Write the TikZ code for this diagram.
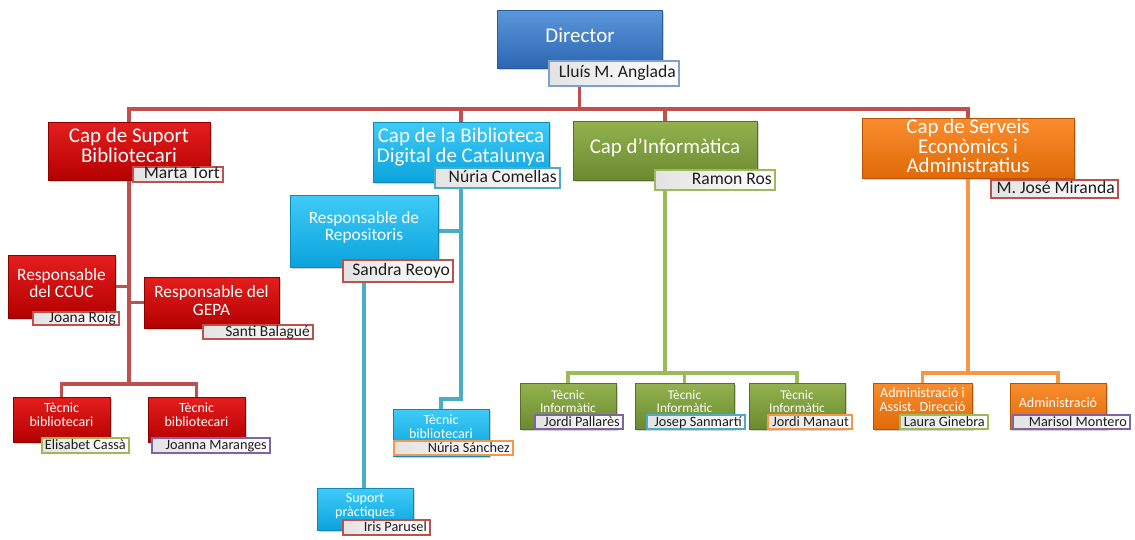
\documentclass[tikz,border=0pt]{standalone}
\usepackage{fontspec}
\setmainfont{Carlito}
\usetikzlibrary{shadows,backgrounds}
\definecolor{bT}{HTML}{5B97DB}\definecolor{bB}{HTML}{2C66B2}\definecolor{bD}{HTML}{2A5A9A}
\definecolor{rT}{HTML}{E41E1E}\definecolor{rB}{HTML}{B50000}\definecolor{rD}{HTML}{8E0000}
\definecolor{cT}{HTML}{3FCBF7}\definecolor{cB}{HTML}{0BA3DC}\definecolor{cD}{HTML}{0A8AB8}
\definecolor{gT}{HTML}{93B24E}\definecolor{gB}{HTML}{6A8A2F}\definecolor{gD}{HTML}{56722A}
\definecolor{oT}{HTML}{F98D2E}\definecolor{oB}{HTML}{E06A08}\definecolor{oD}{HTML}{B55305}
\definecolor{lnR}{HTML}{C0504D}\definecolor{lnB}{HTML}{4BACC6}
\definecolor{lnG}{HTML}{9BBB59}\definecolor{lnO}{HTML}{F79646}
\definecolor{lnP}{HTML}{8064A2}\definecolor{lnD}{HTML}{7F9FCF}
\definecolor{txt}{HTML}{1E1E1E}
\newcommand{\ob}[6]{\node[#2, anchor=north west, minimum width={(#5-#3)*0.75pt}, minimum height={(#6-#4)*0.75pt}] (#1) at (#3,#4) {};}
\tikzset{
  boxbase/.style={rectangle, inner sep=0pt, outer sep=0pt, line width=0.4pt,
    drop shadow={opacity=0.35, shadow xshift=1.3pt, shadow yshift=-1.3pt}},
  bluebox/.style={boxbase, top color=bT, bottom color=bB, draw=bD},
  redbox/.style={boxbase, top color=rT, bottom color=rB, draw=rD},
  cyanbox/.style={boxbase, top color=cT, bottom color=cB, draw=cD},
  greenbox/.style={boxbase, top color=gT, bottom color=gB, draw=gD},
  orangebox/.style={boxbase, top color=oT, bottom color=oB, draw=oD},
  namebox/.style={rectangle, inner sep=0pt, outer sep=0pt, line width=0.9pt, draw=#1,
    left color=gray!22, right color=white,
    drop shadow={opacity=0.3, shadow xshift=1pt, shadow yshift=-1pt}},
  ttl/.style={text=white, align=center, inner sep=0pt},
  nm/.style={text=txt, inner sep=0pt, anchor=east, xshift=-2.2pt, text height=0.64em, text depth=0pt},
  fA/.style={font=\fontsize{15.7}{14.6}\selectfont},
  fB/.style={font=\fontsize{13}{13.2}\selectfont},
  fC/.style={font=\fontsize{10.5}{10.2}\selectfont},
  fD/.style={font=\fontsize{10}{9.6}\selectfont},
  nA/.style={nm, font=\fontsize{13.2}{14}\selectfont},
  nB/.style={nm, font=\fontsize{11.6}{12}\selectfont},
  nC/.style={nm, font=\fontsize{10.7}{11}\selectfont},
  redln/.style={draw=lnR, line width=2.3pt},
  blueln/.style={draw=lnB, line width=2.3pt},
  greenln/.style={draw=lnG, line width=2.3pt},
  orangeln/.style={draw=lnO, line width=2.3pt},
}
\begin{document}
\begin{tikzpicture}[x=0.75pt, y=-0.75pt]
\useasboundingbox (0,0) rectangle (1135,539);
% ---- main boxes
\ob{dir}{bluebox}{497}{10}{662}{68}
\ob{csb}{redbox}{48}{122}{210}{180}
\ob{cbd}{cyanbox}{373}{122}{549}{182}
\ob{cin}{greenbox}{573}{121}{757}{180}
\ob{cso}{orangebox}{862}{118}{1074}{178}
\ob{ccuc}{redbox}{8}{255}{115}{318}
\ob{gepa}{redbox}{144}{277}{279}{328}
\ob{repo}{cyanbox}{290}{195}{438}{267}
\ob{tb1}{redbox}{13}{397}{110}{442}
\ob{tb2}{redbox}{148}{397}{245}{442}
\ob{tbb}{cyanbox}{393}{409}{489}{456}
\ob{sp}{cyanbox}{317}{488}{413}{530}
\ob{ti1}{greenbox}{520}{383}{616}{429}
\ob{ti2}{greenbox}{635}{383}{734}{429}
\ob{ti3}{greenbox}{749}{383}{845}{429}
\ob{ad1}{orangebox}{873}{383}{972}{429}
\ob{ad2}{orangebox}{1010}{383}{1106}{429}
% ---- name boxes
\ob{dirN}{namebox=lnD}{549}{61}{679}{86}
\ob{mt}{namebox=lnR}{133}{167}{223}{182}
\ob{nc}{namebox=lnB}{435}{168}{560}{188}
\ob{rr}{namebox=lnG}{655}{170}{775}{190}
\ob{mjm}{namebox=lnR}{991}{180}{1118}{198}
\ob{jr}{namebox=lnR}{33}{312}{119}{325}
\ob{sb}{namebox=lnR}{203}{325}{313}{339}
\ob{srey}{namebox=lnR}{343}{260}{453}{282}
\ob{ec}{namebox=lnG}{42}{438}{129}{453}
\ob{jm}{namebox=lnP}{152}{438}{270}{453}
\ob{ns}{namebox=lnO}{394}{441}{513}{455}
\ob{ip}{namebox=lnR}{343}{520}{430}{535}
\ob{jp}{namebox=lnP}{535}{415}{623}{429}
\ob{js}{namebox=lnB}{647}{415}{745}{429}
\ob{jma}{namebox=lnO}{768}{415}{852}{429}
\ob{lg}{namebox=lnG}{900}{415}{988}{429}
\ob{mm}{namebox=lnP}{1013}{415}{1130}{429}
% ---- titles
\node[ttl, fA] (dirT) at (580,35) {Director};
\node[ttl, fA] (csbT) at (129,145.5) {Cap de Suport\\Bibliotecari};
\node[ttl, fA] (cbdT) at (461,147) {Cap de la Biblioteca\\Digital de Catalunya};
\node[ttl, fA] (cinT) at (665,148) {Cap d’Informàtica};
\node[ttl, fA] (csoT) at (968,146) {Cap de Serveis\\Econòmics i\\Administratius};
\node[ttl, fB] (ccucT) at (61.5,283) {Responsable\\del CCUC};
\node[ttl, fB] (gepaT) at (211.5,300.5) {Responsable del\\GEPA};
\node[ttl, fB] (repoT) at (364,227.5) {Responsable de\\Repositoris};
\node[ttl, fC] (tb1T) at (61.5,414.5) {Tècnic\\bibliotecari};
\node[ttl, fC] (tb2T) at (196.5,414.5) {Tècnic\\bibliotecari};
\node[ttl, fC] (tbbT) at (441,427) {Tècnic\\bibliotecari};
\node[ttl, fC] (spT) at (365,506) {Suport\\pràctiques};
\node[ttl, fD] (ti1T) at (568,401.5) {Tècnic\\Informàtic};
\node[ttl, fD] (ti2T) at (684.5,401.5) {Tècnic\\Informàtic};
\node[ttl, fD] (ti3T) at (797,401.5) {Tècnic\\Informàtic};
\node[ttl, fC] (ad1T) at (922.5,399.5) {Administració i\\Assist. Direcció};
\node[ttl, fC] (ad2T) at (1058,403) {Administració};
% ---- names
\node[nA] (dirNT) at (dirN.east) {Lluís M. Anglada};
\node[nA] (mtT) at (mt.east) {Marta Tort};
\node[nA] (ncT) at (nc.east) {Núria Comellas};
\node[nA] (rrT) at (rr.east) {Ramon Ros};
\node[nA] (mjmT) at (mjm.east) {M. José Miranda};
\node[nB] (jrT) at (jr.east) {Joana Roig};
\node[nB] (sbT) at (sb.east) {Santi Balagué};
\node[nA] (sreyT) at (srey.east) {Sandra Reoyo};
\node[nC] (ecT) at (ec.east) {Elisabet Cassà};
\node[nC] (jmT) at (jm.east) {Joanna Maranges};
\node[nC] (nsT) at (ns.east) {Núria Sánchez};
\node[nC] (ipT) at (ip.east) {Iris Parusel};
\node[nC] (jpT) at (jp.east) {Jordi Pallarès};
\node[nC] (jsT) at (js.east) {Josep Sanmartí};
\node[nC] (jmaT) at (jma.east) {Jordi Manaut};
\node[nC] (lgT) at (lg.east) {Laura Ginebra};
\node[nC] (mmT) at (mm.east) {Marisol Montero};
% ---- connectors
\coordinate (busY) at (580,109);
\coordinate (rj) at (128,384);
\coordinate (bj) at (461,399);
\coordinate (gj) at (665,373);
\coordinate (oj) at (968,373);
\begin{scope}[on background layer]
  \fill[white] (0,0) rectangle (1135,539);
  \draw[redln] (csb.north) |- (cso.north |- busY) -- (cso.north);
  \draw[redln] (dir.south) -- (dir.south |- busY);
  \draw[redln] (cbd.north) -- (cbd.north |- busY);
  \draw[redln] (cin.north) -- (cin.north |- busY);
  \draw[redln] (csb.south) -- (csb.south |- rj);
  \draw[redln] (tb1.north) |- (rj) -| (tb2.north);
  \draw[redln] (ccuc.east) -- (ccuc.east -| csb.south);
  \draw[redln] (gepa.west) -- (gepa.west -| csb.south);
  \draw[blueln] (cbd.south) -- (cbd.south |- bj) -| (tbb.north);
  \draw[blueln] (repo.east) -- (repo.east -| cbd.south);
  \draw[blueln] (repo.south) -- (repo.south |- sp.north);
  \draw[greenln] (cin.south) -- (gj);
  \draw[greenln] (ti1.north) |- (gj) -| (ti3.north);
  \draw[greenln] (ti2.north) -- (ti2.north |- gj);
  \draw[orangeln] (cso.south) -- (oj);
  \draw[orangeln] (ad1.north) |- (oj) -| (ad2.north);
\end{scope}
\end{tikzpicture}
\end{document}
